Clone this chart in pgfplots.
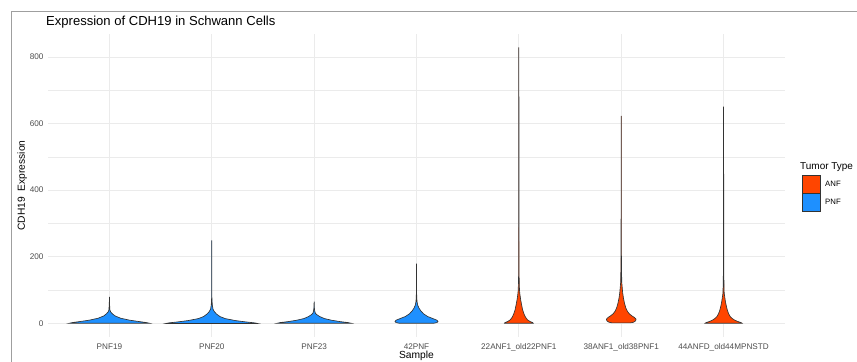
\documentclass[border=0pt]{standalone}
\usepackage{pgfplots}
\pgfplotsset{compat=1.18}
\usepackage{fontspec}
\setmainfont{Liberation Sans}
\definecolor{anf}{HTML}{FF4500}
\definecolor{pnf}{HTML}{1E90FF}
\definecolor{gridc}{HTML}{EBEBEB}
\definecolor{tickc}{HTML}{4D4D4D}
\definecolor{outl}{HTML}{333333}
\begin{document}
\begin{tikzpicture}
\useasboundingbox (0bp,0bp) rectangle (857bp,362bp);
\draw[gray!75, line width=0.8bp] (11bp,0bp) -- (11bp,351bp) -- (857bp,351bp);
\node[anchor=base west, font=\fontsize{13.1}{15}\selectfont, inner sep=0] at (46bp,336bp) {Expression of CDH19 in Schwann Cells};
\begin{axis}[at={(48bp,25bp)}, anchor=south west, width=737bp, height=303bp, scale only axis,
  xmin=0.4, xmax=7.6, ymin=-41.4, ymax=869,
  axis line style={draw=none}, tick style={draw=none},
  xtick={1,2,3,4,5,6,7},
  xticklabels={PNF19,PNF20,PNF23,42PNF,22ANF1\_old22PNF1,38ANF1\_old38PNF1,44ANFD\_old44MPNSTD},
  ytick={0,200,400,600,800}, minor ytick={100,300,500,700},
  grid=both,
  major grid style={color=gridc, line width=0.8bp},
  minor grid style={color=gridc, line width=0.45bp},
  /pgf/number format/assume math mode=true,
  tick label style={font=\fontsize{8.2}{10}\selectfont, text=tickc},
  yticklabel style={xshift=-1bp},
  xticklabel style={yshift=-3bp},
  xlabel={Sample}, ylabel={CDH19\ \ Expression},
  label style={font=\fontsize{10.3}{12}\selectfont},
  xlabel style={yshift=7bp},
  ylabel style={yshift=-4bp},
  clip=false,
]
\addplot[fill=pnf, draw=outl, line width=0.65bp] coordinates {(1.39,0)(1.36,2)(1.29,5)(1.2,9)(1.11,15)(1.055,22)(1.03,28)(1.012,34)(1.005,40)(1.001,60)(1.0005,78)
(0.9995,78)(0.999,60)(0.995,40)(0.988,34)(0.97,28)(0.945,22)(0.89,15)(0.8,9)(0.71,5)(0.64,2)(0.61,0)} --cycle;
\addplot[fill=pnf, draw=outl, line width=0.65bp] coordinates {(2.45,-1)(2.42,1)(2.33,4)(2.23,8)(2.13,14)(2.08,20)(2.045,28)(2.025,35)(2.012,42)(2.005,55)(2.001,80)(2.0007,150)(2.0005,248)
(1.9995,248)(1.9993,150)(1.999,80)(1.995,55)(1.988,42)(1.975,35)(1.955,28)(1.92,20)(1.87,14)(1.77,8)(1.67,4)(1.58,1)(1.55,-1)} --cycle;
\addplot[fill=pnf, draw=outl, line width=0.65bp] coordinates {(3.36,0)(3.33,2)(3.25,5)(3.17,9)(3.1,14)(3.055,20)(3.025,26)(3.012,30)(3.005,38)(3.001,50)(3.0005,64)
(2.9995,64)(2.999,50)(2.995,38)(2.988,30)(2.975,26)(2.945,20)(2.9,14)(2.83,9)(2.75,5)(2.67,2)(2.64,0)} --cycle;
\addplot[fill=pnf, draw=outl, line width=0.65bp] coordinates {(4.17,0)(4.2,2)(4.21,5)(4.2,9)(4.16,14)(4.11,20)(4.07,28)(4.045,36)(4.025,45)(4.012,54)(4.005,65)(4.001,90)(4.0007,130)(4.0005,178)
(3.9995,178)(3.9993,130)(3.999,90)(3.995,65)(3.988,54)(3.975,45)(3.955,36)(3.93,28)(3.89,20)(3.84,14)(3.8,9)(3.79,5)(3.8,2)(3.83,0)} --cycle;
\addplot[fill=anf, draw=outl, line width=0.65bp] coordinates {(5.14,0)(5.135,2)(5.11,5)(5.085,10)(5.065,18)(5.05,28)(5.037,40)(5.027,55)(5.018,70)(5.011,85)(5.006,100)(5.002,150)(5.001,300)(5.0007,600)(5.0005,828)
(4.9995,828)(4.9993,600)(4.999,300)(4.998,150)(4.994,100)(4.989,85)(4.982,70)(4.973,55)(4.963,40)(4.95,28)(4.935,18)(4.915,10)(4.89,5)(4.865,2)(4.86,0)} --cycle;
\addplot[fill=anf, draw=outl, line width=0.65bp] coordinates {(6.09,1)(6.12,3)(6.14,7)(6.145,12)(6.13,17)(6.105,22)(6.08,28)(6.06,36)(6.045,46)(6.032,60)(6.022,75)(6.014,92)(6.009,110)(6.005,124)(6.002,200)(6.001,400)(6.0005,622)
(5.9995,622)(5.999,400)(5.998,200)(5.995,124)(5.991,110)(5.986,92)(5.978,75)(5.968,60)(5.955,46)(5.94,36)(5.92,28)(5.895,22)(5.87,17)(5.855,12)(5.86,7)(5.88,3)(5.91,1)} --cycle;
\addplot[fill=anf, draw=outl, line width=0.65bp] coordinates {(7.18,0)(7.17,2)(7.14,5)(7.11,9)(7.085,14)(7.065,20)(7.05,28)(7.038,38)(7.028,50)(7.018,65)(7.011,80)(7.006,90)(7.002,150)(7.001,400)(7.0005,650)
(6.9995,650)(6.999,400)(6.998,150)(6.994,90)(6.989,80)(6.982,65)(6.972,50)(6.962,38)(6.95,28)(6.935,20)(6.915,14)(6.89,9)(6.86,5)(6.83,2)(6.82,0)} --cycle;
\end{axis}
\node[anchor=base west, font=\fontsize{10}{12}\selectfont, inner sep=0] at (800bp,192bp) {Tumor Type};
\draw[fill=anf, draw=outl, line width=0.5bp] (802bp,169bp) rectangle (820bp,187bp);
\draw[fill=pnf, draw=outl, line width=0.5bp] (802bp,151bp) rectangle (820bp,169bp);
\node[anchor=west, font=\fontsize{7.8}{9}\selectfont, inner sep=0] at (825bp,178bp) {ANF};
\node[anchor=west, font=\fontsize{7.8}{9}\selectfont, inner sep=0] at (825bp,160bp) {PNF};
\end{tikzpicture}
\end{document}
